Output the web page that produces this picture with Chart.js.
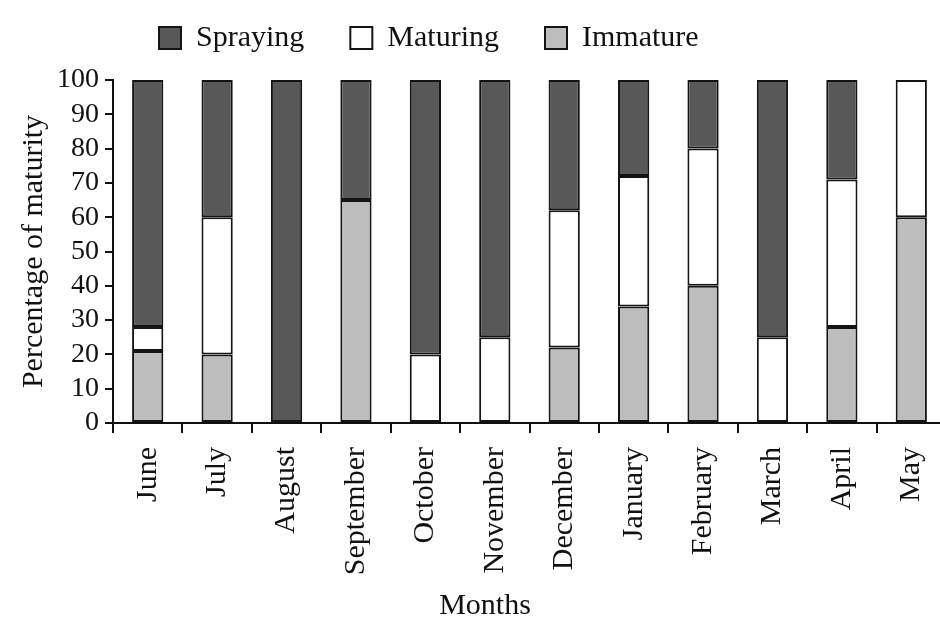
<!DOCTYPE html>
<html>
<head>
<meta charset="utf-8">
<script src="https://cdn.jsdelivr.net/npm/chart.js@4"></script>
<style>
  html, body { margin: 0; padding: 0; background: #fff; overflow: hidden; }
  canvas { display: block; }
</style>
</head>
<body>
<canvas id="myChart" width="946" height="617"></canvas>
<script>
// months on the x axis
const months = ['June', 'July', 'August', 'September', 'October', 'November',
  'December', 'January', 'February', 'March', 'April', 'May'];

// percentages, stacked bottom to top: immature, maturing, spraying
const immature = [21, 20, 0, 65, 0, 0, 22, 34, 40, 0, 28, 60];
const maturing = [7, 40, 0, 0, 20, 25, 40, 38, 40, 25, 43, 40];
const spraying = [72, 40, 100, 35, 80, 75, 38, 28, 20, 75, 29, 0];

const yTicks = [0, 10, 20, 30, 40, 50, 60, 70, 80, 90, 100];

const serif = 'Liberation Serif';
const ink = '#111';

// legend sits a bit left of centre with a gap under it,
// and the x title is centred on the page rather than the plot
const placement = {
  id: 'placement',
  beforeInit(chart) {
    const legend = chart.legend;
    const fit = legend.fit;
    legend.fit = function () {
      fit.call(this);
      this.height = 70;
    };
    const draw = legend.draw;
    legend.draw = function () {
      const first = this.legendHitBoxes[0];
      const dx = first ? 159 - first.left : 0;
      const dy = first ? 38 - (first.top + first.height / 2) : 0;
      const bottom = this.bottom;
      this.bottom = bottom + 200;
      this.ctx.save();
      this.ctx.translate(dx, dy);
      draw.apply(this, arguments);
      this.ctx.restore();
      this.bottom = bottom;
    };
  },
  beforeDraw(chart) {
    const sx = chart.scales.x;
    if (sx._titleMoved) return;
    sx._titleMoved = true;
    const drawTitle = sx.drawTitle;
    sx.drawTitle = function () {
      this.ctx.save();
      this.ctx.translate(485 - (this.left + this.right) / 2, 0);
      drawTitle.apply(this, arguments);
      this.ctx.restore();
    };
  }
};

const ctx = document.getElementById('myChart');

new Chart(ctx, {
  type: 'bar',
  data: {
    labels: months,
    datasets: [
      { label: 'Immature', data: immature, backgroundColor: '#bdbdbd' },
      { label: 'Maturing', data: maturing, backgroundColor: '#ffffff' },
      { label: 'Spraying', data: spraying, backgroundColor: '#585858' }
    ].map(d => Object.assign(d, {
      borderColor: '#141414',
      borderWidth: 2,
      borderSkipped: false,
      barPercentage: 0.45,
      categoryPercentage: 1
    }))
  },
  options: {
    responsive: false,
    animation: false,
    layout: { padding: { top: 10, left: 0, right: 0, bottom: 0 } },
    scales: {
      x: {
        stacked: true,
        offset: true,
        grid: {
          offset: true,
          drawOnChartArea: false,
          color: ink,
          lineWidth: 2,
          tickLength: 10
        },
        border: { display: true, color: ink, width: 2 },
        ticks: {
          color: ink,
          maxRotation: 90,
          minRotation: 90,
          autoSkip: false,
          padding: 14,
          font: { family: serif, size: 30 }
        },
        title: {
          display: true,
          text: 'Months',
          color: ink,
          padding: { top: 0, bottom: 0 },
          font: { family: serif, size: 30, lineHeight: 0.7 }
        },
        afterFit(scale) {
          scale.height = 194;
          scale.paddingLeft = 0;
          scale.paddingRight = 0;
        }
      },
      y: {
        stacked: true,
        min: 0,
        max: 100,
        grid: {
          drawOnChartArea: false,
          color: ink,
          lineWidth: 2,
          tickLength: 8
        },
        border: { display: true, color: ink, width: 2 },
        ticks: {
          color: ink,
          padding: 6,
          autoSkip: false,
          font: { family: serif, size: 28 }
        },
        afterBuildTicks(scale) { scale.ticks = yTicks.map(v => ({ value: v })); },
        title: {
          display: true,
          text: 'Percentage of maturity',
          color: ink,
          padding: { top: 19, bottom: 0 },
          font: { family: serif, size: 30, lineHeight: 1 }
        },
        afterFit(scale) { scale.width = 113; }
      }
    },
    plugins: {
      legend: {
        reverse: true,
        labels: {
          color: ink,
          boxWidth: 22,
          boxHeight: 22,
          padding: 46,
          font: { family: serif, size: 30 }
        }
      },
      tooltip: { enabled: false }
    }
  },
  plugins: [placement]
});
</script>
</body>
</html>
